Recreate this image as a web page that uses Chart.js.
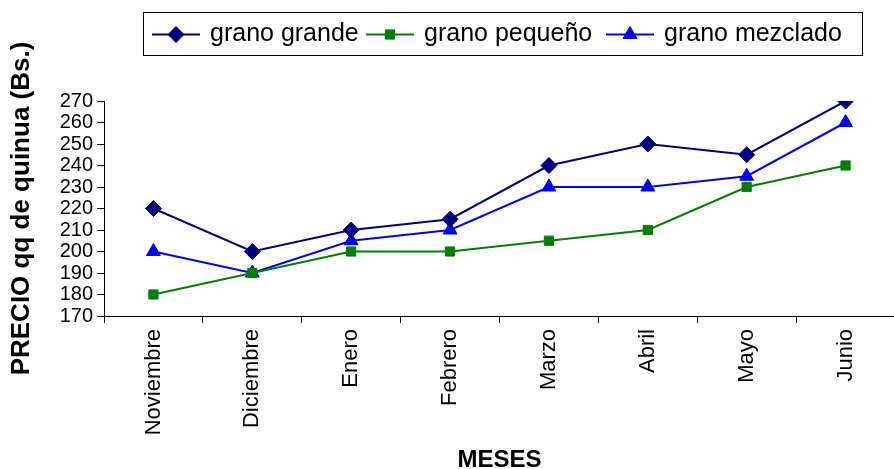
<!DOCTYPE html>
<html>
<head>
<meta charset="utf-8">
<script src="https://cdn.jsdelivr.net/npm/chart.js@4.4.0/dist/chart.umd.min.js"></script>
<style>
  html, body { margin: 0; padding: 0; background: #fff; overflow: hidden; }
  #wrap { width: 904px; height: 469px; }
</style>
</head>
<body>
<div id="wrap"><canvas id="chart" width="904" height="469"></canvas></div>
<script>
const meses = ['Noviembre', 'Diciembre', 'Enero', 'Febrero', 'Marzo', 'Abril', 'Mayo', 'Junio'];
const granoGrande = [220, 200, 210, 215, 240, 250, 245, 270];
const granoPequeno = [180, 190, 200, 200, 205, 210, 230, 240];
const granoMezclado = [200, 190, 205, 210, 230, 230, 235, 260];
const yTicks = [170, 180, 190, 200, 210, 220, 230, 240, 250, 260, 270];

const FONT = '"Liberation Sans", Arial, sans-serif';

// legend box drawn by hand: line + marker, then the label
const legendBox = {
    id: 'legendBox',
    afterDraw(chart) {
        const ctx = chart.ctx;
        const items = chart.data.datasets;
        const starts = [152, 366, 606];
        ctx.save();
        ctx.font = '25px ' + FONT;
        const lineLen = 48, gapText = 10;
        const boxLeft = 143, boxTop = 12, boxW = 719, boxH = 43;
        ctx.strokeStyle = '#000';
        ctx.lineWidth = 1;
        ctx.strokeRect(boxLeft + 0.5, boxTop + 0.5, boxW, boxH);
        const cy = boxTop + boxH / 2 + 1;
        items.forEach((ds, i) => {
            const x = starts[i];
            ctx.strokeStyle = ds.borderColor;
            ctx.lineWidth = 2;
            ctx.beginPath();
            ctx.moveTo(x, cy);
            ctx.lineTo(x + lineLen, cy);
            ctx.stroke();
            ctx.fillStyle = ds.backgroundColor;
            ctx.lineWidth = 1;
            Chart.helpers.drawPoint(ctx, {
                pointStyle: ds.pointStyle,
                radius: ds.pointRadius,
                rotation: 0,
                borderWidth: 1
            }, x + lineLen / 2, cy);
            ctx.fillStyle = '#000';
            ctx.textBaseline = 'middle';
            ctx.textAlign = 'left';
            ctx.fillText(ds.label, x + lineLen + gapText, cy);
        });
        ctx.restore();
    }
};

const ctx = document.getElementById('chart').getContext('2d');
new Chart(ctx, {
    type: 'line',
    data: {
        labels: meses,
        datasets: [
            {
                label: 'grano grande',
                data: granoGrande,
                borderColor: '#000080',
                backgroundColor: '#000080',
                pointStyle: 'rectRot',
                pointRadius: 8,
                pointBorderWidth: 1,
                borderWidth: 2,
                tension: 0
            },
            {
                label: 'grano pequeño',
                data: granoPequeno,
                borderColor: '#008000',
                backgroundColor: '#008000',
                pointStyle: 'rect',
                pointRadius: 6.5,
                pointBorderWidth: 1,
                borderWidth: 2,
                tension: 0
            },
            {
                label: 'grano mezclado',
                data: granoMezclado,
                borderColor: '#0000FF',
                backgroundColor: '#0000FF',
                pointStyle: 'triangle',
                pointRadius: 8,
                pointBorderWidth: 1,
                borderWidth: 2,
                tension: 0
            }
        ]
    },
    options: {
        responsive: false,
        animation: false,
        layout: { padding: { top: 101, right: 4, left: 0, bottom: 0 } },
        plugins: {
            legend: { display: false },
            tooltip: { enabled: false }
        },
        scales: {
            x: {
                offset: true,
                grid: {
                    offset: true,
                    drawOnChartArea: false,
                    color: '#000',
                    tickLength: 7
                },
                border: { color: '#000', width: 1 },
                ticks: {
                    color: '#000',
                    font: { family: FONT, size: 22 },
                    minRotation: 90,
                    maxRotation: 90,
                    autoSkip: false,
                    padding: 6
                },
                title: {
                    display: true,
                    text: 'MESES',
                    color: '#000',
                    font: { family: FONT, size: 24, weight: 'bold' },
                    padding: { top: 0, bottom: -6 }
                },
                afterFit(scale) { scale.height = 153; }
            },
            y: {
                min: 170,
                max: 270,
                afterBuildTicks(scale) { scale.ticks = yTicks.map(v => ({ value: v })); },
                grid: {
                    drawOnChartArea: false,
                    color: '#000',
                    tickLength: 7
                },
                border: { color: '#000', width: 1 },
                ticks: {
                    color: '#000',
                    font: { family: FONT, size: 20 },
                    autoSkip: false,
                    padding: 4
                },
                title: {
                    display: true,
                    text: 'PRECIO qq de quinua (Bs.)',
                    color: '#000',
                    font: { family: FONT, size: 26, weight: 'bold' },
                    padding: { top: 6, bottom: 0 }
                },
                afterFit(scale) { scale.width = 104; }
            }
        }
    },
    plugins: [legendBox]
});
</script>
</body>
</html>
